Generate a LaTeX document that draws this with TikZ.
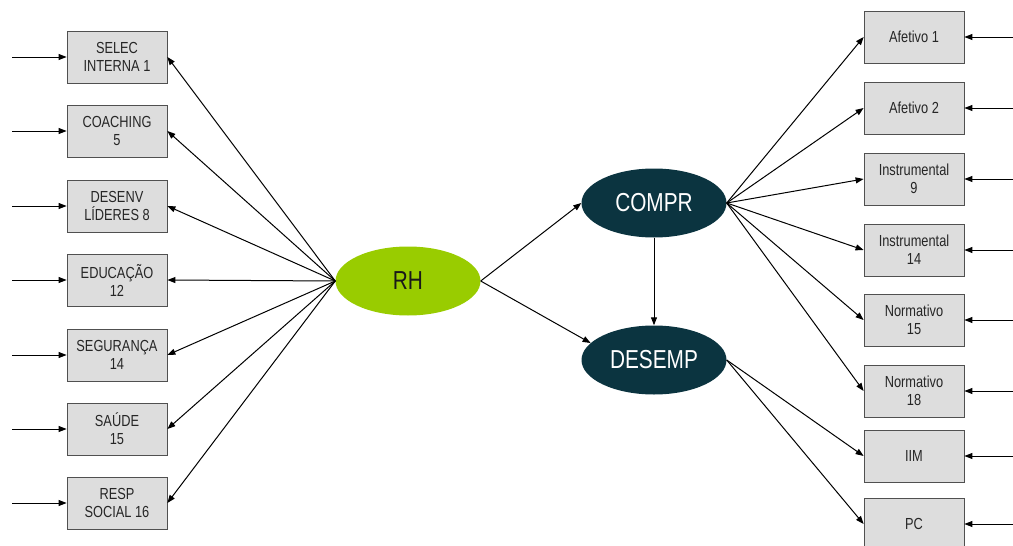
\documentclass[tikz,border=0pt]{standalone}
\usepackage{fontspec}
\setmainfont[FakeStretch=0.8]{Liberation Sans}
\usetikzlibrary{arrows.meta,shapes.geometric}
\definecolor{boxfill}{HTML}{DDDDDD}
\definecolor{boxline}{HTML}{505050}
\definecolor{rhgreen}{HTML}{99CC00}
\definecolor{latdark}{HTML}{0B3440}
\begin{document}
\begin{tikzpicture}[x=1pt,y=-1pt,
  ind/.style={draw=boxline, fill=boxfill, line width=0.8pt, minimum width=100pt,
    minimum height=52pt, inner sep=0pt, align=center,
    font=\fontsize{16}{18}\selectfont, text=black!85},
  lat/.style={ellipse, minimum width=145pt, minimum height=69pt, inner sep=0pt,
    font=\fontsize{26}{28}\selectfont},
  arr/.style={-{Triangle[length=8pt,width=6pt]}, line width=1pt}]
\useasboundingbox (0,0) rectangle (1013,546);
\clip (0,0) rectangle (1013,546);

% latent variables
\node[lat, fill=rhgreen, text=black!90] (RH) at (408,281) {RH};
\node[lat, fill=latdark, text=white] (CO) at (654,203) {COMPR};
\node[lat, fill=latdark, text=white] (DE) at (654,360) {DESEMP};

% indicators of RH
\node[ind] (s1) at (117,57)  {SELEC\\INTERNA 1};
\node[ind] (s2) at (117,131) {COACHING\\5};
\node[ind] (s3) at (117,206) {DESENV\\LÍDERES 8};
\node[ind] (s4) at (117,280) {EDUCAÇÃO\\12};
\node[ind] (s5) at (117,355) {SEGURANÇA\\14};
\node[ind] (s6) at (117,429) {SAÚDE\\15};
\node[ind] (s7) at (117,503) {RESP\\SOCIAL 16};

% indicators of COMPR and DESEMP
\node[ind] (a1) at (914,37)  {Afetivo 1};
\node[ind] (a2) at (914,108) {Afetivo 2};
\node[ind] (a3) at (914,179) {Instrumental\\9};
\node[ind] (a4) at (914,250) {Instrumental\\14};
\node[ind] (a5) at (914,320) {Normativo\\15};
\node[ind] (a6) at (914,391) {Normativo\\18};
\node[ind] (a7) at (914,456) {IIM};
\node[ind] (a8) at (914,524) {PC};

% error terms (left)
\foreach \n/\y in {1/57,2/131,3/206,4/280,5/355,6/429,7/503}{
  \coordinate (es\n) at (12,\y);
  \draw[arr] (es\n) -- (s\n.west);
}
% error terms (right)
\foreach \n/\y in {1/37,2/108,3/179,4/250,5/320,6/391,7/456,8/524}{
  \coordinate (ea\n) at (1013,\y);
  \draw[arr] (ea\n) -- (a\n.east);
}

% loadings
\foreach \n in {1,...,7}{
  \draw[arr] (RH.west) -- (s\n.east);
}
\foreach \n in {1,...,6}{
  \draw[arr] (CO.east) -- (a\n.west);
}
\draw[arr] (DE.east) -- (a7.west);
\draw[arr] (DE.east) -- (a8.west);

% structural paths
\draw[arr] (RH.east) -- (CO.west);
\draw[arr] (RH.east) -- (DE.165);
\draw[arr] (CO.south) -- (DE.north);
\end{tikzpicture}
\end{document}
